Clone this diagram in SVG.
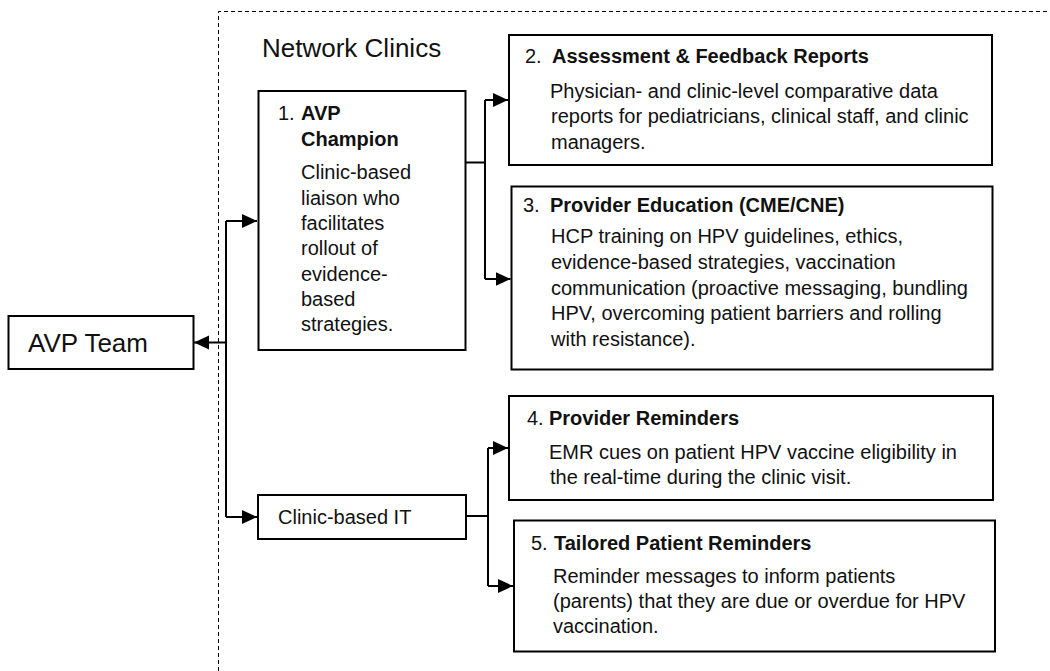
<svg xmlns="http://www.w3.org/2000/svg" width="1050" height="671" viewBox="0 0 1050 671">
<style>
text{font-family:"Liberation Sans",Arial,sans-serif;fill:#111;}
.box{fill:#fff;stroke:#000;stroke-width:2;}
.t{font-size:20px;}
.b{font-weight:bold;}
.big{font-size:26px;}
.ln{fill:none;stroke:#000;stroke-width:2;}
</style>
<defs>
<marker id="ah" markerWidth="16" markerHeight="16" refX="15" refY="8" orient="auto" markerUnits="userSpaceOnUse">
<path d="M0,1 L15,8 L0,15 z" fill="#000"/>
</marker>
</defs>
<rect width="1050" height="671" fill="#fff"/>
<g id="network-clinics">
<path d="M218.5,671 V11.5 H1050" fill="none" stroke="#000" stroke-width="1" stroke-dasharray="4,3"/>
<text class="big" x="262" y="57">Network Clinics</text>
</g>
<g id="connectors">
<path class="ln" d="M226,221 V517"/>
<path class="ln" d="M226,221 H257" marker-end="url(#ah)"/>
<path class="ln" d="M226,517 H257" marker-end="url(#ah)"/>
<path class="ln" d="M226,342.5 H194" marker-end="url(#ah)"/>
<path class="ln" d="M466,162.5 H485"/>
<path class="ln" d="M485,100 V279"/>
<path class="ln" d="M485,100 H508" marker-end="url(#ah)"/>
<path class="ln" d="M485,279 H510.5" marker-end="url(#ah)"/>
<path class="ln" d="M466,516 H488"/>
<path class="ln" d="M488,448 V586"/>
<path class="ln" d="M488,448 H508" marker-end="url(#ah)"/>
<path class="ln" d="M488,586 H513" marker-end="url(#ah)"/>
</g>
<g id="avp-team">
<rect class="box" x="8.5" y="316" width="185" height="53"/>
<text class="big" x="28" y="352">AVP Team</text>
</g>
<g id="node1">
<rect class="box" x="258.5" y="91" width="207" height="259"/>
<text class="t" x="278" y="120">1. <tspan class="b" x="301">AVP</tspan></text>
<text class="t b" x="301" y="145.5">Champion</text>
<text class="t" x="301" y="179.3">Clinic-based</text>
<text class="t" x="301" y="204.6">liaison who</text>
<text class="t" x="301" y="229.9">facilitates</text>
<text class="t" x="301" y="255.2">rollout of</text>
<text class="t" x="301" y="280.5">evidence-</text>
<text class="t" x="301" y="305.8">based</text>
<text class="t" x="301" y="331.1">strategies.</text>
</g>
<g id="clinic-it">
<rect class="box" x="258" y="495" width="208" height="44"/>
<text class="t" x="278" y="524">Clinic-based IT</text>
</g>
<g id="node2">
<rect class="box" x="509" y="35" width="483" height="130"/>
<text class="t" x="525" y="63.3">2. <tspan class="b" x="552">Assessment &amp; Feedback Reports</tspan></text>
<text class="t" x="550" y="97.7">Physician- and clinic-level comparative data</text>
<text class="t" x="551" y="123.3">reports for pediatricians, clinical staff, and clinic</text>
<text class="t" x="551" y="149.3">managers.</text>
</g>
<g id="node3">
<rect class="box" x="511.5" y="186.5" width="481" height="183"/>
<text class="t" x="523" y="211.7">3. <tspan class="b" x="550">Provider Education (CME/CNE)</tspan></text>
<text class="t" x="551" y="243.3">HCP training on HPV guidelines, ethics,</text>
<text class="t" x="551" y="269">evidence-based strategies, vaccination</text>
<text class="t" x="551" y="294.7">communication (proactive messaging, bundling</text>
<text class="t" x="551" y="320.3">HPV, overcoming patient barriers and rolling</text>
<text class="t" x="551" y="345.8">with resistance).</text>
</g>
<g id="node4">
<rect class="box" x="509" y="396" width="484" height="104"/>
<text class="t" x="527" y="425">4. <tspan class="b" x="549">Provider Reminders</tspan></text>
<text class="t" x="549" y="459">EMR cues on patient HPV vaccine eligibility in</text>
<text class="t" x="550" y="484">the real-time during the clinic visit.</text>
</g>
<g id="node5">
<rect class="box" x="514" y="520.5" width="481" height="131"/>
<text class="t" x="531" y="550">5. <tspan class="b" x="554">Tailored Patient Reminders</tspan></text>
<text class="t" x="553" y="583.3">Reminder messages to inform patients</text>
<text class="t" x="553" y="608.3">(parents) that they are due or overdue for HPV</text>
<text class="t" x="553" y="633.3">vaccination.</text>
</g>
</svg>
